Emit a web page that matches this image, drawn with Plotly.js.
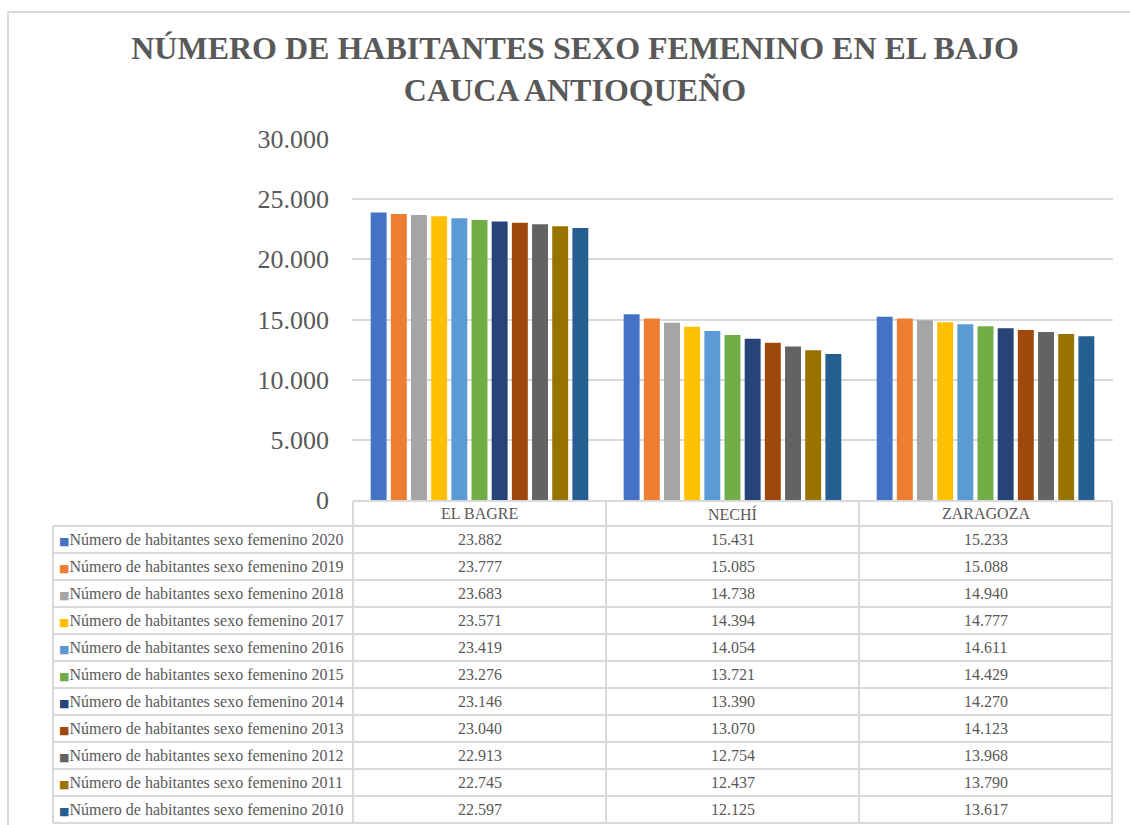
<!DOCTYPE html>
<html>
<head>
<meta charset="utf-8">
<script src="https://cdn.plot.ly/plotly-3.0.1.min.js"></script>
<style>html,body{margin:0;padding:0;background:#fff;}#chart{width:1130px;height:825px;}</style>
</head>
<body>
<div id="chart"></div>
<script>
const categories = ['EL BAGRE', 'NECHÍ', 'ZARAGOZA'];
const years = ['2020','2019','2018','2017','2016','2015','2014','2013','2012','2011','2010'];
const v2020 = [23882, 15431, 15233];
const v2019 = [23777, 15085, 15088];
const v2018 = [23683, 14738, 14940];
const v2017 = [23571, 14394, 14777];
const v2016 = [23419, 14054, 14611];
const v2015 = [23276, 13721, 14429];
const v2014 = [23146, 13390, 14270];
const v2013 = [23040, 13070, 14123];
const v2012 = [22913, 12754, 13968];
const v2011 = [22745, 12437, 13790];
const v2010 = [22597, 12125, 13617];
const seriesValues = [v2020, v2019, v2018, v2017, v2016, v2015, v2014, v2013, v2012, v2011, v2010];
const seriesPrefix = 'Número de habitantes sexo femenino ';
const colors = ['#4472C4','#ED7D31','#A5A5A5','#FFC000','#5B9BD5','#70AD47','#264478','#9E480E','#636363','#997300','#255E91'];

const W = 1130, H = 825;
const fmt = n => String(n).replace(/\B(?=(\d{3})+(?!\d))/g, '.');
const FONT = 'Liberation Serif';
const TXT = '#595959';
const GRID = '#D9D9D9';

const traces = seriesValues.map((vals, i) => ({
  type: 'bar',
  name: seriesPrefix + years[i],
  x: categories,
  y: vals,
  marker: {color: colors[i], line: {width: 0}},
  showlegend: false,
  hoverinfo: 'x+y+name'
}));

// ---- data table geometry (pixels -> paper) ----
const py = p => 1 - p / H;
const px = p => p / W;
const TABLE_LEFT = 53, HEADER_TOP = 501, HEADER_BOT = 526, ROW_H = 27;
const rowTop = i => HEADER_BOT + ROW_H * i;
const nRows = years.length;
const tableBot = rowTop(nRows);

const shapes = [];
const annotations = [];
const line = {color: GRID, width: 2};

// outer chart border
shapes.push({type: 'rect', xref: 'paper', yref: 'paper',
  x0: px(8), x1: 1.05, y0: -0.05, y1: py(12),
  line: line, fillcolor: 'rgba(0,0,0,0)', layer: 'below'});

// header top line (over the category columns)
shapes.push({type: 'line', xref: 'x', yref: 'paper',
  x0: -0.5, x1: categories.length - 0.5, y0: py(HEADER_TOP), y1: py(HEADER_TOP), line: line});
// row lines
for (let i = 0; i <= nRows; i++) {
  shapes.push({type: 'line', xref: 'paper', yref: 'paper',
    x0: px(TABLE_LEFT), x1: px(1113), y0: py(rowTop(i)), y1: py(rowTop(i)), line: line});
}
// vertical lines
shapes.push({type: 'line', xref: 'paper', yref: 'paper',
  x0: px(TABLE_LEFT), x1: px(TABLE_LEFT), y0: py(HEADER_BOT), y1: py(tableBot), line: line});
for (let c = 0; c <= categories.length; c++) {
  shapes.push({type: 'line', xref: 'x', yref: 'paper',
    x0: c - 0.5, x1: c - 0.5, y0: py(HEADER_TOP), y1: py(tableBot), line: line});
}

const cellFont = {family: FONT, size: 16, color: TXT};
// header texts
categories.forEach(c => annotations.push({
  xref: 'x', yref: 'paper', x: c, y: py((HEADER_TOP + HEADER_BOT) / 2),
  text: c, showarrow: false, xanchor: 'center', yanchor: 'middle', font: cellFont
}));
// rows
years.forEach((y, i) => {
  const yc = py(rowTop(i) + ROW_H / 2);
  annotations.push({
    xref: 'paper', yref: 'paper', x: px(57), y: yc, xanchor: 'left', yanchor: 'middle',
    text: '<span style="color:' + colors[i] + ';font-family:DejaVu Sans;font-size:11px">■</span>' + seriesPrefix + y,
    showarrow: false, font: cellFont
  });
  categories.forEach((c, ci) => annotations.push({
    xref: 'x', yref: 'paper', x: c, y: yc, xanchor: 'center', yanchor: 'middle',
    text: fmt(seriesValues[i][ci]), showarrow: false, font: cellFont
  }));
});

const layout = {
  width: W, height: H,
  margin: {l: 0, r: 0, t: 0, b: 0},
  paper_bgcolor: 'white',
  plot_bgcolor: 'white',
  separators: ',.',
  font: {family: FONT, color: TXT},
  title: {
    text: 'NÚMERO DE HABITANTES SEXO FEMENINO EN EL BAJO<br>CAUCA ANTIOQUEÑO',
    font: {family: FONT, size: 32, color: TXT, weight: 'bold'},
    x: 575 / W, xanchor: 'center', xref: 'paper',
    y: 1 - 59 / H, yanchor: 'top', yref: 'paper'
  },
  barmode: 'group',
  bargap: 0.123,
  bargroupgap: 0.21,
  xaxis: {
    domain: [352 / W, 1113 / W],
    showticklabels: false,
    showgrid: false, showline: false, zeroline: false, ticks: ''
  },
  yaxis: {
    domain: [1 - 500 / H, 1 - 139 / H],
    range: [0, 30000],
    dtick: 5000,
    tickformat: ',d',
    showgrid: true, gridcolor: GRID, gridwidth: 2,
    zeroline: false, showline: false, ticks: '',
    ticklabelstandoff: 22,
    tickfont: {family: FONT, size: 26, color: TXT}
  },
  shapes: shapes,
  annotations: annotations
};

Plotly.newPlot('chart', traces, layout, {displayModeBar: false});
</script>
</body>
</html>
